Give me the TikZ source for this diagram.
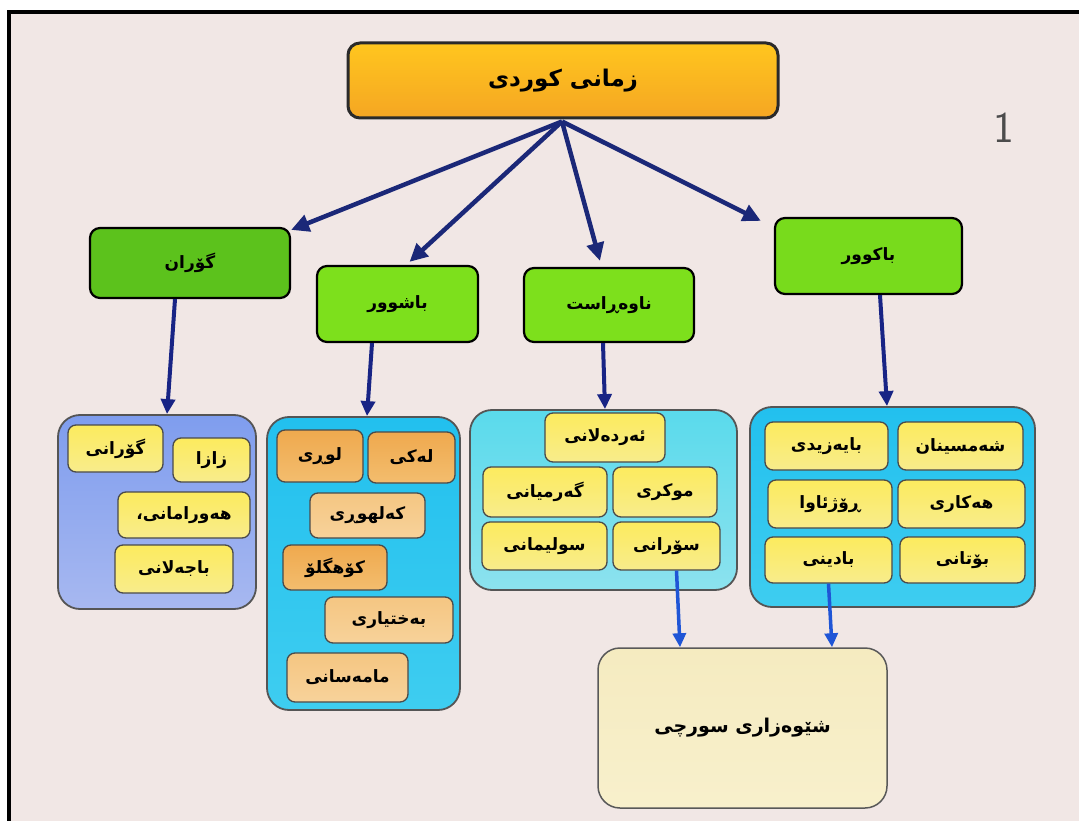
\documentclass[tikz,border=0pt]{standalone}
\usepackage{fontspec}
\usetikzlibrary{arrows.meta,calc}
\TeXXeTstate=1
\newfontfamily\kufont[Script=Arabic]{DejaVu Sans Bold}
\newcommand\kurd[1]{{\kufont\beginR #1\endR}}

\definecolor{paper}{HTML}{F1E7E5}
\definecolor{navy}{HTML}{1B2878}
\definecolor{arrowblue}{HTML}{1F55D6}
\definecolor{edge}{HTML}{2A2A2A}
\definecolor{rootA}{HTML}{FFC61E}
\definecolor{rootB}{HTML}{F5A623}
\definecolor{greenA}{HTML}{5CC21C}
\definecolor{greenB}{HTML}{7DE01C}
\definecolor{periA}{HTML}{7F9DEE}
\definecolor{periB}{HTML}{A7B8F0}
\definecolor{cyanA}{HTML}{22C0EE}
\definecolor{cyanB}{HTML}{3ECDF0}
\definecolor{lcyanA}{HTML}{5ADAEC}
\definecolor{lcyanB}{HTML}{8CE2EE}
\definecolor{yelA}{HTML}{FCEB5E}
\definecolor{yelB}{HTML}{F8EC8C}
\definecolor{orA}{HTML}{EFA94E}
\definecolor{orB}{HTML}{F3BD6E}
\definecolor{orC}{HTML}{F5C682}
\definecolor{orD}{HTML}{F7D29A}
\definecolor{creamA}{HTML}{F5EBC0}
\definecolor{creamB}{HTML}{F8F0CC}

\tikzset{
  rootbox/.style={draw=edge, line width=3pt, rounded corners=12pt,
    top color=rootA, bottom color=rootB,
    minimum width=430pt, minimum height=75pt, font=\fontsize{23}{27}\selectfont},
  branchbox/.style={draw=black, line width=2.2pt, rounded corners=10pt,
    fill=greenB, font=\fontsize{17}{20}\selectfont},
  groupbox/.style={draw=edge!80, line width=1.8pt, rounded corners=22pt},
  leafbox/.style={draw=edge!85, line width=1.3pt, rounded corners=8pt,
    top color=yelA, bottom color=yelB, font=\fontsize{17}{20}\selectfont},
  southleaf/.style={leafbox, top color=orC, bottom color=orD},
  southleafdark/.style={leafbox, top color=orA, bottom color=orB},
  mainarrow/.style={draw=navy, line width=4.5pt, -{Triangle[length=18pt,width=17pt]}},
  downarrow/.style={draw=navy!90!blue, line width=4pt, -{Triangle[length=15pt,width=14pt]}},
  lowarrow/.style={draw=arrowblue, line width=3.5pt, -{Triangle[length=14pt,width=13pt]}},
}

\begin{document}
\begin{tikzpicture}[x=1pt,y=-1pt]
% page and frame
\fill[white] (0,0) rectangle (1079,821);
\fill[paper] (9,12) rectangle (1079,821);
\useasboundingbox (0,0) rectangle (1079,821);
\draw[black, line width=4pt] (9,821) -- (9,12) -- (1079,12);

% root
\node[rootbox] (root) at (563,80.5) {\kurd{زمانی کوردی}};
\coordinate (hub) at ($(root.south)+(-1,2)$);

% dialect branches
\node[branchbox, fill=greenA, minimum width=200pt, minimum height=70pt] (gor) at (190,263) {\kurd{گۆران}};
\node[branchbox, minimum width=161pt, minimum height=76pt] (bas) at (397.5,304) {\kurd{باشوور}};
\node[branchbox, minimum width=170pt, minimum height=74pt] (naw) at (609,305) {\kurd{ناوەڕاست}};
\node[branchbox, fill=greenB!85!greenA, minimum width=187pt, minimum height=76pt] (bak) at (868.5,256) {\kurd{باکوور}};

% group containers
\node[groupbox, top color=periA, bottom color=periB, minimum width=198pt, minimum height=194pt] (ggrp) at (157,512) {};
\node[groupbox, top color=cyanA, bottom color=cyanB, minimum width=193pt, minimum height=293pt] (sgrp) at (363.5,563.5) {};
\node[groupbox, top color=lcyanA, bottom color=lcyanB, minimum width=267pt, minimum height=180pt] (cgrp) at (603.5,500) {};
\node[groupbox, top color=cyanA, bottom color=cyanB, minimum width=285pt, minimum height=200pt] (ngrp) at (892.5,507) {};

% Gorani group
\node[leafbox, minimum width=95pt, minimum height=47pt] (g1) at (115.5,448.5) {\kurd{گۆرانی}};
\node[leafbox, minimum width=77pt, minimum height=44pt] (g2) at (211.5,460) {\kurd{زازا}};
\node[leafbox, minimum width=132pt, minimum height=46pt] (g3) at (184,515) {\kurd{هەورامانی،}};
\node[leafbox, minimum width=118pt, minimum height=48pt] (g4) at (174,569) {\kurd{باجەلانی}};

% southern group
\node[southleafdark, minimum width=86pt, minimum height=52pt] (s1) at (320,456) {\kurd{لوڕی}};
\node[southleafdark, minimum width=87pt, minimum height=51pt] (s2) at (411.5,457.5) {\kurd{لەکی}};
\node[southleaf, minimum width=115pt, minimum height=45pt] (s3) at (367.5,515.5) {\kurd{کەلهوڕی}};
\node[southleafdark, minimum width=104pt, minimum height=45pt] (s4) at (335,567.5) {\kurd{کۆهگلۆ}};
\node[southleaf, minimum width=128pt, minimum height=46pt] (s5) at (389,620) {\kurd{بەختیاری}};
\node[southleaf, minimum width=121pt, minimum height=49pt] (s6) at (347.5,677.5) {\kurd{مامەسانی}};

% central group
\node[leafbox, minimum width=120pt, minimum height=49pt] (c1) at (605,437.5) {\kurd{ئەردەلانی}};
\node[leafbox, minimum width=124pt, minimum height=50pt] (c2) at (545,492) {\kurd{گەرمیانی}};
\node[leafbox, minimum width=104pt, minimum height=50pt] (c3) at (665,492) {\kurd{موکری}};
\node[leafbox, minimum width=125pt, minimum height=48pt] (c4) at (544.5,546) {\kurd{سولیمانی}};
\node[leafbox, minimum width=107pt, minimum height=48pt] (c5) at (666.5,546) {\kurd{سۆرانی}};

% northern group
\node[leafbox, minimum width=123pt, minimum height=48pt] (n1) at (826.5,446) {\kurd{بایەزیدی}};
\node[leafbox, minimum width=125pt, minimum height=48pt] (n2) at (960.5,446) {\kurd{شەمسینان}};
\node[leafbox, minimum width=124pt, minimum height=48pt] (n3) at (830,504) {\kurd{ڕۆژئاوا}};
\node[leafbox, minimum width=127pt, minimum height=48pt] (n4) at (961.5,504) {\kurd{هەکاری}};
\node[leafbox, minimum width=127pt, minimum height=46pt] (n5) at (828.5,560) {\kurd{بادینی}};
\node[leafbox, minimum width=125pt, minimum height=46pt] (n6) at (962.5,560) {\kurd{بۆتانی}};

% Surchi sub-dialect
\node[groupbox, draw=gray!70!black, line width=1.5pt, top color=creamA, bottom color=creamB,
  minimum width=289pt, minimum height=160pt, font=\fontsize{19}{22}\selectfont] (sur) at (742.5,728) {\kurd{شێوەزاری سورچی}};

% page number
\node[font=\fontsize{44}{44}\selectfont\sffamily, text=black!70] (pg) at (1004,128) {1};

% arrows from root
\draw[mainarrow] (hub) -- ($(gor.north east)+(0,3)$);
\draw[mainarrow] (hub) -- ($(bas.north)+(12,-3)$);
\draw[mainarrow] (hub) -- ($(naw.north)+(-9,-6)$);
\draw[mainarrow] (hub) -- ($(bak.north west)+(-13,4)$);

% arrows to groups
\draw[downarrow] ($(gor.south)+(-15,0)$) -- ($(ggrp.north)+(10,0)$);
\draw[downarrow] ($(bas.south)+(-25.5,0)$) -- ($(sgrp.north)+(3.5,0)$);
\draw[downarrow] ($(naw.south)+(-6,0)$) -- ($(cgrp.north)+(1.5,0)$);
\draw[downarrow] ($(bak.south)+(11.5,0)$) -- ($(ngrp.north)+(-5.5,0)$);

% arrows to Surchi
\draw[lowarrow] ($(c5.south)+(10,0)$) -- ($(sur.north)+(-62.5,0)$);
\draw[lowarrow] (n5.south) -- ($(sur.north)+(89.5,0)$);
\end{tikzpicture}
\end{document}
